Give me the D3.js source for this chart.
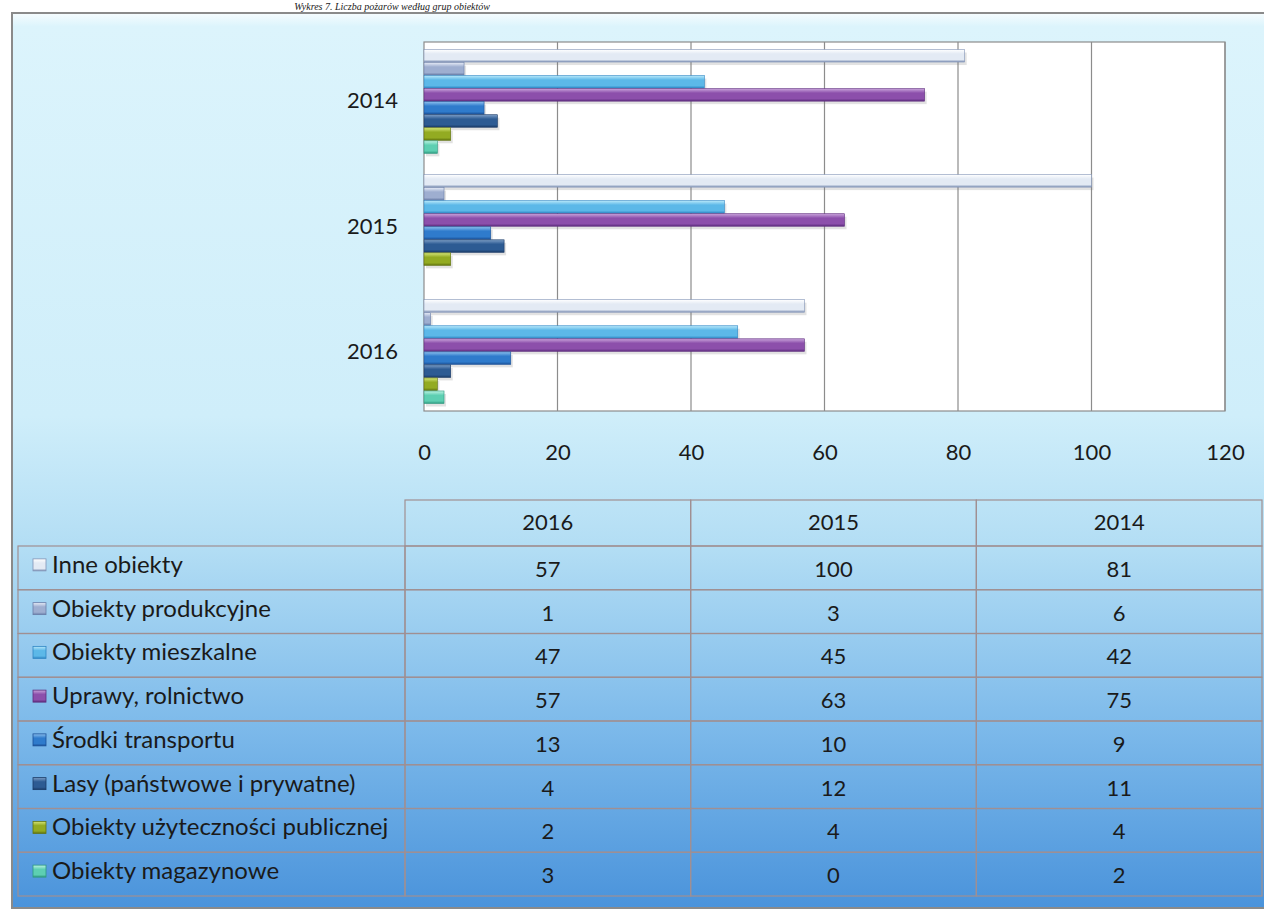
<!DOCTYPE html>
<html>
<head>
<meta charset="utf-8">
<script src="https://cdn.jsdelivr.net/npm/d3@7"></script>
<style>
  body { margin: 0; background: #fff; }
  svg text { font-family: Lato, "Noto Sans", sans-serif; fill: #1a1a1a; }
</style>
</head>
<body>
<div id="chart"></div>
<script>
/*******************************/
/*            Data             */
/*******************************/

var years = ["2016", "2015", "2014"];            // table column order
var axis_years = ["2014", "2015", "2016"];       // top to bottom on the chart

var series_names = [
  "Inne obiekty",
  "Obiekty produkcyjne",
  "Obiekty mieszkalne",
  "Uprawy, rolnictwo",
  "Środki transportu",
  "Lasy (państwowe i prywatne)",
  "Obiekty użyteczności publicznej",
  "Obiekty magazynowe"
];

// values in order 2016, 2015, 2014
var inne_obiekty      = [57, 100, 81];
var produkcyjne       = [1, 3, 6];
var mieszkalne        = [47, 45, 42];
var uprawy            = [57, 63, 75];
var srodki_transportu = [13, 10, 9];
var lasy              = [4, 12, 11];
var uzytecznosci      = [2, 4, 4];
var magazynowe        = [3, 0, 2];

var x_ticks = [0, 20, 40, 60, 80, 100, 120];

var series_values = [inne_obiekty, produkcyjne, mieszkalne, uprawy,
                     srodki_transportu, lasy, uzytecznosci, magazynowe];

// [light, base, dark] for each series
var series_colors = [
  ["#ffffff", "#e3eaf4", "#8193b6"],
  ["#e6ebf6", "#9eaed0", "#6a7ea8"],
  ["#b8e8fa", "#5cb8e8", "#2f86c4"],
  ["#c9a4db", "#8c4fab", "#5e2d7e"],
  ["#8cc0ee", "#2f7bcc", "#1b5198"],
  ["#7d9ec6", "#2d5b93", "#1a3a66"],
  ["#d6e67a", "#93ab22", "#61740f"],
  ["#bdf3e3", "#5dcfb2", "#2e9a80"]
];

/*******************************/
/*        SVG and layout       */
/*******************************/

var width = 1264, height = 911;

var svg = d3.select("#chart").append("svg")
  .attr("width", width)
  .attr("height", height);

var defs = svg.append("defs");

var bg = defs.append("linearGradient")
  .attr("id", "bg-grad")
  .attr("x1", 0).attr("y1", 0).attr("x2", 0).attr("y2", 1);
[[0, "#f6fcfe"], [0.015, "#dcf4fc"], [0.45, "#cfeefa"], [0.6, "#b2ddf4"],
 [0.8, "#7cb9ea"], [1, "#4a93db"]].forEach(function(s) {
  bg.append("stop").attr("offset", s[0]).attr("stop-color", s[1]);
});

series_colors.forEach(function(c, i) {
  var g = defs.append("linearGradient")
    .attr("id", "bar-grad-" + i)
    .attr("x1", 0).attr("y1", 0).attr("x2", 0).attr("y2", 1);
  g.append("stop").attr("offset", 0).attr("stop-color", c[0]);
  g.append("stop").attr("offset", 0.35).attr("stop-color", c[1]);
  g.append("stop").attr("offset", 0.8).attr("stop-color", c[1]);
  g.append("stop").attr("offset", 1).attr("stop-color", c[2]);
});

// caption of the scanned page, squeezed above the frame
svg.append("text")
  .attr("x", 490)
  .attr("y", 9.5)
  .attr("text-anchor", "end")
  .style("font-family", "'Liberation Serif', serif")
  .style("font-style", "italic")
  .style("font-size", "10px")
  .text("Wykres 7. Liczba pożarów według grup obiektów");

// chart frame
svg.append("rect")
  .attr("x", 12).attr("y", 13)
  .attr("width", 1262).attr("height", 895)
  .attr("fill", "url(#bg-grad)")
  .attr("stroke", "#8a8a8a")
  .attr("stroke-width", 2);

/*******************************/
/*          Bar chart          */
/*******************************/

var plot = { left: 424, right: 1225, top: 42, bottom: 411 };

var x = d3.scaleLinear()
  .domain([0, 120])
  .range([plot.left, plot.right]);

var y0 = d3.scaleBand()
  .domain(axis_years)
  .range([plot.top, plot.bottom])
  .paddingInner(0.17)
  .paddingOuter(0.06);

var y1 = d3.scaleBand()
  .domain(series_names)
  .range([0, y0.bandwidth()])
  .paddingInner(0.04);

svg.append("rect")
  .attr("x", plot.left).attr("y", plot.top)
  .attr("width", plot.right - plot.left)
  .attr("height", plot.bottom - plot.top)
  .attr("fill", "#ffffff")
  .attr("stroke", "#8c8c8c")
  .attr("stroke-width", 1.2);

// vertical gridlines
svg.append("g")
  .selectAll("line")
  .data(x_ticks.slice(1))
  .enter()
  .append("line")
  .attr("x1", function(d) { return x(d); })
  .attr("x2", function(d) { return x(d); })
  .attr("y1", plot.top)
  .attr("y2", plot.bottom)
  .attr("stroke", "#8c8c8c")
  .attr("stroke-width", 1.2);

// x axis labels (no ticks, no domain)
var x_axis = svg.append("g")
  .attr("transform", "translate(0," + (plot.bottom + 33) + ")")
  .call(d3.axisBottom(x).tickValues(x_ticks).tickSize(0).tickPadding(0));
x_axis.select(".domain").remove();
x_axis.selectAll("text")
  .style("font-family", "Lato, sans-serif")
  .style("font-size", "22px")
  .attr("fill", "#1a1a1a");

// y axis labels
var y_axis = svg.append("g")
  .attr("transform", "translate(" + (plot.left - 26) + ",0)")
  .call(d3.axisLeft(y0).tickSize(0).tickPadding(0));
y_axis.select(".domain").remove();
y_axis.selectAll("text")
  .style("font-family", "Lato, sans-serif")
  .style("font-size", "22px")
  .attr("fill", "#1a1a1a");

// bars
var bar_rows = [];
series_names.forEach(function(name, i) {
  years.forEach(function(year, j) {
    bar_rows.push({ series: name, idx: i, year: year, value: series_values[i][j] });
  });
});

var bars = svg.append("g");

bars.selectAll(".shadow")
  .data(bar_rows.filter(function(d) { return d.value > 0; }))
  .enter()
  .append("rect")
  .attr("class", "shadow")
  .attr("x", plot.left + 2)
  .attr("y", function(d) { return y0(d.year) + y1(d.series) + 3; })
  .attr("width", function(d) { return x(d.value) - plot.left; })
  .attr("height", y1.bandwidth())
  .attr("fill", "#7a7a7a")
  .attr("opacity", 0.22);

bars.selectAll(".bar")
  .data(bar_rows.filter(function(d) { return d.value > 0; }))
  .enter()
  .append("rect")
  .attr("class", "bar")
  .attr("x", plot.left)
  .attr("y", function(d) { return y0(d.year) + y1(d.series); })
  .attr("width", function(d) { return x(d.value) - plot.left; })
  .attr("height", y1.bandwidth())
  .attr("fill", function(d) { return "url(#bar-grad-" + d.idx + ")"; })
  .attr("stroke", function(d) { return series_colors[d.idx][2]; })
  .attr("stroke-width", 0.6);

/*******************************/
/*         Data table          */
/*******************************/

var table = { left: 18, key_right: 405, right: 1262, head_top: 500, top: 546, bottom: 896 };

var col = d3.scaleBand()
  .domain(years)
  .range([table.key_right, table.right]);

var row = d3.scaleBand()
  .domain(series_names)
  .range([table.top, table.bottom]);

var grid_color = "#a08f92";
var tg = svg.append("g");

// header cells
tg.selectAll(".head-cell")
  .data(years)
  .enter()
  .append("rect")
  .attr("x", function(d) { return col(d); })
  .attr("y", table.head_top)
  .attr("width", col.bandwidth())
  .attr("height", table.top - table.head_top)
  .attr("fill", "none")
  .attr("stroke", grid_color)
  .attr("stroke-width", 1.2);

tg.selectAll(".head-text")
  .data(years)
  .enter()
  .append("text")
  .attr("x", function(d) { return col(d) + col.bandwidth() / 2; })
  .attr("y", (table.head_top + table.top) / 2 + 7)
  .attr("text-anchor", "middle")
  .style("font-size", "22px")
  .text(function(d) { return d; });

// legend cells
tg.selectAll(".key-cell")
  .data(series_names)
  .enter()
  .append("rect")
  .attr("x", table.left)
  .attr("y", function(d) { return row(d); })
  .attr("width", table.key_right - table.left)
  .attr("height", row.bandwidth())
  .attr("fill", "none")
  .attr("stroke", grid_color)
  .attr("stroke-width", 1.2);

tg.selectAll(".key-box")
  .data(series_names)
  .enter()
  .append("rect")
  .attr("x", table.left + 15)
  .attr("y", function(d) { return row(d) + row.bandwidth() / 2 - 9; })
  .attr("width", 13)
  .attr("height", 12)
  .attr("fill", function(d, i) { return "url(#bar-grad-" + i + ")"; })
  .attr("stroke", function(d, i) { return series_colors[i][2]; })
  .attr("stroke-width", 0.8);

tg.selectAll(".key-text")
  .data(series_names)
  .enter()
  .append("text")
  .attr("x", table.left + 34)
  .attr("y", function(d) { return row(d) + row.bandwidth() / 2 + 5; })
  .style("font-size", "24px")
  .text(function(d) { return d; });

// value cells
var cells = [];
series_names.forEach(function(name, i) {
  years.forEach(function(year, j) {
    cells.push({ series: name, year: year, value: series_values[i][j] });
  });
});

tg.selectAll(".val-cell")
  .data(cells)
  .enter()
  .append("rect")
  .attr("x", function(d) { return col(d.year); })
  .attr("y", function(d) { return row(d.series); })
  .attr("width", col.bandwidth())
  .attr("height", row.bandwidth())
  .attr("fill", "none")
  .attr("stroke", grid_color)
  .attr("stroke-width", 1.2);

tg.selectAll(".val-text")
  .data(cells)
  .enter()
  .append("text")
  .attr("x", function(d) { return col(d.year) + col.bandwidth() / 2; })
  .attr("y", function(d) { return row(d.series) + row.bandwidth() / 2 + 9; })
  .attr("text-anchor", "middle")
  .style("font-size", "22px")
  .text(function(d) { return d.value; });
</script>
</body>
</html>
